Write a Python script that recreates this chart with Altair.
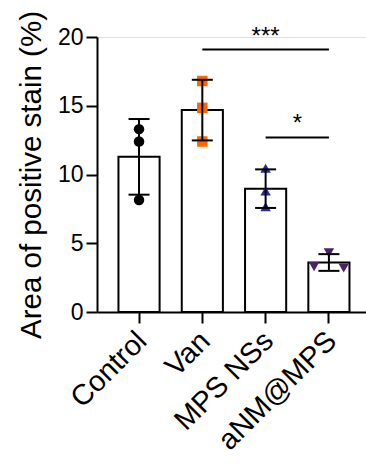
import altair as alt
import pandas as pd

# ---- data ----
groups = ["Control", "Van", "MPS NSs", "aNM@MPS"]
control_vals = [13.3, 12.4, 8.15]
van_vals = [16.8, 14.85, 12.4]
mps_vals = [10.45, 8.8, 7.66]
anm_vals = [4.3, 3.3, 3.2]
# horizontal spread of overlapping replicate points (Prism style), -1 = left, 1 = right
control_spread = [0, 0, 0]
van_spread = [0, 0, 0]
mps_spread = [0, 0, 0]
anm_spread = [0, -1, 1]

shapes = ["circle", "square", "triangle-up", "triangle-down"]
colors = ["#000000", "#FF6600", "#2E2A9A", "#4A2360"]

sig_from = ["Van", "MPS NSs"]
sig_to = ["aNM@MPS", "aNM@MPS"]
sig_y = [19.1, 12.7]
sig_label = ["***", "*"]

rows = []
for g, vals, spr in zip(groups,
                        [control_vals, van_vals, mps_vals, anm_vals],
                        [control_spread, van_spread, mps_spread, anm_spread]):
    for v, s in zip(vals, spr):
        rows.append({"group": g, "value": v, "spread": s})
df = pd.DataFrame(rows)
sig_df = pd.DataFrame({"g1": sig_from, "g2": sig_to, "y": sig_y, "label": sig_label})

FONT = "Liberation Sans"

xscale = alt.Scale(domain=groups, paddingInner=0.35, paddingOuter=0.3, align=0.565)
yscale = alt.Scale(domain=[0, 20], nice=False)

xenc = alt.X("group:N", scale=xscale, sort=groups,
             axis=alt.Axis(title=None, labelAngle=315, labelFontSize=29,
                           labelAlign="right", labelBaseline="middle",
                           labelPadding=13, labelOffset=3, tickSize=11, tickWidth=2,
                           domainWidth=2, tickColor="black", domainColor="black",
                           labelColor="black", labelFont=FONT))
yaxis = alt.Axis(title="Area of positive stain (%)", values=[0, 5, 10, 15, 20],
                 labelFontSize=23, titleFontSize=29.5, titleFontWeight="normal",
                 titleFont=FONT, labelFont=FONT, tickSize=11, tickWidth=2,
                 domainWidth=2, tickColor="black", domainColor="black",
                 labelColor="black", titleColor="black", labelPadding=3,
                 titlePadding=11, grid=False)

base = alt.Chart(df)

bars = base.mark_bar(fill="white", stroke="black", strokeWidth=2).encode(
    x=xenc,
    y=alt.Y("mean(value):Q", scale=yscale, axis=yaxis),
)

shape_enc = alt.Shape("group:N", scale=alt.Scale(domain=groups, range=shapes), legend=None)
color_enc = alt.Color("group:N", scale=alt.Scale(domain=groups, range=colors), legend=None)


def point_layer(spread, band_pos):
    return base.transform_filter(alt.datum.spread == spread).mark_point(
        filled=True, size=110, opacity=1
    ).encode(
        x=alt.X("group:N", scale=xscale, sort=groups, bandPosition=band_pos),
        y=alt.Y("value:Q", scale=yscale),
        shape=shape_enc,
        color=color_enc,
    )


points_c = point_layer(0, 0.5)
points_l = point_layer(-1, 0.14)
points_r = point_layer(1, 0.86)

stats = base.transform_aggregate(
    m="mean(value)", sd="stdev(value)", groupby=["group"]
).transform_calculate(lo="datum.m - datum.sd", hi="datum.m + datum.sd")

err_rule = stats.mark_rule(color="black", strokeWidth=2).encode(
    x=alt.X("group:N", scale=xscale, sort=groups),
    y=alt.Y("lo:Q", scale=yscale),
    y2="hi:Q",
)
err_hi = stats.mark_tick(color="black", thickness=2, size=21, opacity=1).encode(
    x=alt.X("group:N", scale=xscale, sort=groups),
    y=alt.Y("hi:Q", scale=yscale),
)
err_lo = stats.mark_tick(color="black", thickness=2, size=21, opacity=1).encode(
    x=alt.X("group:N", scale=xscale, sort=groups),
    y=alt.Y("lo:Q", scale=yscale),
)

sig = alt.Chart(sig_df)
sig_lines = sig.mark_rule(color="black", strokeWidth=2).encode(
    x=alt.X("g1:N", scale=xscale, sort=groups),
    x2="g2:N",
    y=alt.Y("y:Q", scale=yscale),
)
# "***" centred over the Van–aNM@MPS comparison (midpoint = one step right of Van)
sig_text1 = sig.transform_filter(alt.datum.label == "***").mark_text(
    fontSize=24, font=FONT, baseline="alphabetic", dy=-5, dx=63.3, color="black"
).encode(
    x=alt.X("g1:N", scale=xscale, sort=groups),
    y=alt.Y("y:Q", scale=yscale),
    text="label:N",
)
# "*" centred over the MPS NSs–aNM@MPS comparison
sig_text2 = sig.transform_filter(alt.datum.label == "*").mark_text(
    fontSize=24, font=FONT, baseline="alphabetic", dy=-6, dx=31.7, color="black"
).encode(
    x=alt.X("g1:N", scale=xscale, sort=groups),
    y=alt.Y("y:Q", scale=yscale),
    text="label:N",
)

chart = alt.layer(bars, points_c, points_l, points_r, err_rule, err_hi, err_lo,
                  sig_lines, sig_text1, sig_text2).properties(
    width=269, height=275,
    autosize=alt.AutoSizeParams(type="none"),
    padding={"left": 97, "top": 37, "right": 0, "bottom": 156},
).configure_view(stroke=None).configure(background="white")

chart.save("out.html", embed_options={"renderer": "svg", "actions": False})
